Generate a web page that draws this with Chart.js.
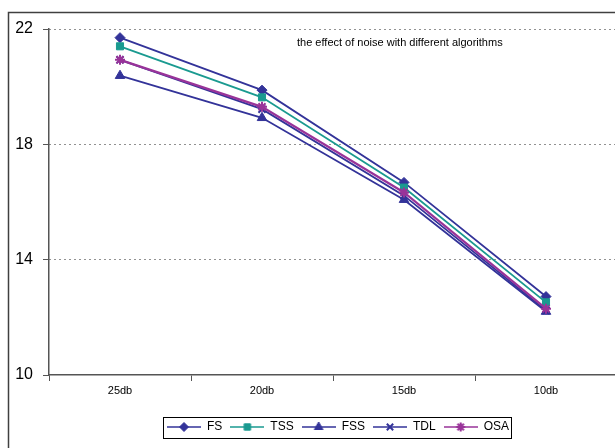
<!DOCTYPE html>
<html>
<head>
<meta charset="utf-8">
<script src="https://cdn.jsdelivr.net/npm/chart.js@4/dist/chart.umd.min.js"></script>
<style>
html,body{margin:0;padding:0;background:#fff;overflow:hidden;width:615px;height:448px;}
#wrap{position:absolute;left:0;top:0;width:676px;height:448px;}
</style>
</head>
<body>
<div id="wrap"><canvas id="c" width="676" height="448"></canvas></div>
<script>
const categories = ['25db', '20db', '15db', '10db'];
const seriesNames = ['FS', 'TSS', 'FSS', 'TDL', 'OSA'];
const fsValues  = [21.7, 19.88, 16.68, 12.72];
const tssValues = [21.4, 19.63, 16.5, 12.52];
const fssValues = [20.38, 18.92, 16.08, 12.2];
const tdlValues = [20.93, 19.22, 16.22, 12.24];
const osaValues = [20.93, 19.3, 16.33, 12.3];
const yTicks = [10, 14, 18, 22];
const chartTitle = 'the effect of noise with different algorithms';

const FONT = 'Arial, "Liberation Sans", sans-serif';
const NAVY = '#333399';
const TEAL = '#1a9a90';
const PURPLE = '#993399';

const styles = [
  {color: NAVY, point: 'rectRot', radius: 5, bw: 1},
  {color: TEAL, point: 'rect', radius: 5, bw: 1},
  {color: NAVY, point: 'triangle', radius: 5.5, bw: 1},
  {color: NAVY, point: 'crossRot', radius: 5, bw: 2},
  {color: PURPLE, point: 'star', radius: 5, bw: 2}
];
const values = [fsValues, tssValues, fssValues, tdlValues, osaValues];

function legendImage(s) {
  const cv = document.createElement('canvas');
  cv.width = 34; cv.height = 14;
  const ctx = cv.getContext('2d');
  ctx.strokeStyle = s.color; ctx.lineWidth = 1.5;
  ctx.beginPath(); ctx.moveTo(0, 7); ctx.lineTo(34, 7); ctx.stroke();
  ctx.fillStyle = s.color; ctx.strokeStyle = s.color; ctx.lineWidth = s.bw;
  Chart.helpers.drawPoint(ctx, {pointStyle: s.point, radius: s.radius - 0.5, rotation: 0, borderWidth: s.bw}, 17, 7);
  return cv;
}

const datasets = seriesNames.map((name, i) => ({
  label: name,
  data: values[i],
  borderColor: styles[i].color,
  backgroundColor: styles[i].color,
  borderWidth: i === 4 ? 2.2 : 1.8,
  pointStyle: styles[i].point,
  pointRadius: styles[i].radius,
  pointBorderWidth: styles[i].bw,
  pointBackgroundColor: styles[i].color,
  pointBorderColor: styles[i].color,
  tension: 0,
  order: 5 - i
}));

const framePlugin = {
  id: 'frame',
  afterLayout(chart) {
    const lg = chart.legend;
    if (lg) { lg.left += 5; lg.right += 5; if (lg.legendHitBoxes) lg.legendHitBoxes.forEach(h => h.left += 5); }
  },
  beforeDraw(chart) {
    const ctx = chart.ctx;
    ctx.save();
    ctx.fillStyle = '#fff';
    ctx.fillRect(0, 0, chart.width, chart.height);
    ctx.restore();
  },
  afterDraw(chart) {
    const ctx = chart.ctx;
    ctx.save();
    ctx.strokeStyle = '#404040';
    ctx.lineWidth = 1.5;
    ctx.beginPath();
    ctx.moveTo(8.5, 460); ctx.lineTo(8.5, 12.5); ctx.lineTo(700, 12.5);
    ctx.stroke();
    ctx.fillStyle = '#000';
    ctx.font = '11px ' + FONT;
    ctx.textBaseline = 'alphabetic';
    ctx.textAlign = 'left';
    ctx.fillText(chartTitle, 297, 46);
    const lg = chart.legend;
    if (lg && lg.legendHitBoxes && lg.legendHitBoxes.length) {
      const hb = lg.legendHitBoxes;
      const l = Math.min(...hb.map(h => h.left));
      const r = Math.max(...hb.map(h => h.left + h.width));
      const t = Math.min(...hb.map(h => h.top));
      const b = Math.max(...hb.map(h => h.top + h.height));
      ctx.strokeStyle = '#000';
      ctx.lineWidth = 1;
      ctx.strokeRect(Math.round(l - 4) + 0.5, Math.round(t - 4) + 0.5, Math.round(r - l + 6), Math.round(b - t + 9));
    }
    ctx.restore();
  }
};

new Chart(document.getElementById('c'), {
  type: 'line',
  data: {labels: categories, datasets: datasets},
  plugins: [framePlugin],
  options: {
    responsive: false,
    animation: false,
    layout: {padding: {left: 0, right: 59, top: 29, bottom: 5}},
    plugins: {
      title: {display: false},
      tooltip: {enabled: false},
      legend: {
        display: true,
        position: 'bottom',
        fullSize: false,
        labels: {
          usePointStyle: true,
          pointStyleWidth: 34,
          boxHeight: 12,
          padding: 8,
          color: '#000',
          font: {family: FONT, size: 12},
          sort: (a, b) => a.datasetIndex - b.datasetIndex,
          generateLabels: (chart) => chart.data.datasets.map((ds, i) => ({
            text: ds.label,
            pointStyle: legendImage(styles[i]),
            fillStyle: styles[i].color,
            strokeStyle: styles[i].color,
            lineWidth: 0,
            fontColor: '#000',
            datasetIndex: i,
            hidden: false
          }))
        }
      }
    },
    scales: {
      x: {
        type: 'category',
        offset: true,
        afterFit: (s) => { s.height = 38; },
        grid: {display: true, offset: true, drawOnChartArea: false, drawTicks: true, tickLength: 6, tickColor: '#555', tickWidth: 1},
        border: {display: true, color: '#555', width: 1.5},
        ticks: {color: '#000', font: {family: FONT, size: 11}, padding: 3, maxRotation: 0, autoSkip: false}
      },
      y: {
        min: 10,
        max: 22,
        afterFit: (s) => { s.width = 49; },
        afterBuildTicks: (s) => { s.ticks = yTicks.map(v => ({value: v})); },
        grid: {display: true, color: (c) => c.tick && c.tick.value === 10 ? 'rgba(0,0,0,0)' : '#222', lineWidth: 1, drawTicks: true, tickLength: 6, tickColor: '#555', tickWidth: 1, tickBorderDash: [0, 0]},
        border: {display: true, color: '#555', width: 1.5, dash: [1, 4]},
        ticks: {color: '#000', font: {family: FONT, size: 16}, padding: 10, stepSize: 4}
      }
    }
  }
});
</script>
</body>
</html>
